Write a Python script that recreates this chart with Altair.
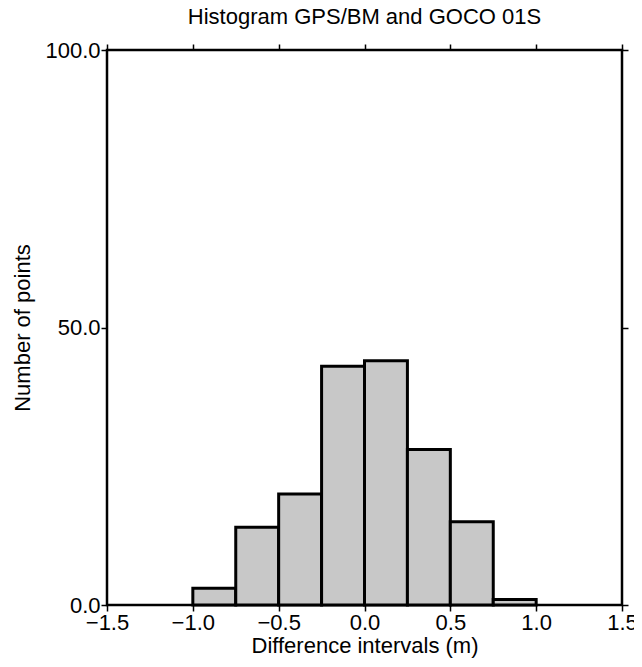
import altair as alt
import pandas as pd

bin_start = [-1.0, -0.75, -0.5, -0.25, 0.0, 0.25, 0.5, 0.75]
bin_end = [-0.75, -0.5, -0.25, 0.0, 0.25, 0.5, 0.75, 1.0]
counts = [3, 14, 20, 43, 44, 28, 15, 1]
x_ticks = [-1.5, -1.0, -0.5, 0.0, 0.5, 1.0, 1.5]
y_ticks = [0, 50, 100]

df = pd.DataFrame({"start": bin_start, "end": bin_end, "count": counts})

FONT = "Liberation Sans"
xscale = alt.Scale(domain=[-1.5, 1.5], nice=False, zero=False)
yscale = alt.Scale(domain=[0, 100], nice=False)

common_axis = dict(
    grid=False, domain=False, tickColor="black", tickWidth=1.5, tickSize=6,
    labelFont=FONT, labelFontSize=22, labelColor="black",
    titleFont=FONT, titleFontSize=22, titleFontWeight="normal", titleColor="black",
)

bars = alt.Chart(df).mark_bar(
    fill="#c8c8c8", stroke="black", strokeWidth=3, strokeJoin="miter"
).encode(
    x=alt.X("start:Q", scale=xscale,
            axis=alt.Axis(values=x_ticks, format=".1f", title="Difference intervals (m)",
                          labelPadding=1, titlePadding=2, labelFlush=False, **common_axis)),
    x2="end:Q",
    y=alt.Y("count:Q", scale=yscale,
            axis=alt.Axis(values=y_ticks, format=".1f", title="Number of points",
                          labelPadding=1, titlePadding=10, **common_axis)),
    y2=alt.datum(0),
)

frame = alt.Chart(df).mark_bar(opacity=0).encode(
    x=alt.X("start:Q", scale=xscale,
            axis=alt.Axis(orient="top", values=x_ticks, labels=False, title=None, **common_axis)),
    x2="end:Q",
    y=alt.Y("count:Q", scale=yscale,
            axis=alt.Axis(orient="right", values=y_ticks, labels=False, title=None, **common_axis)),
    y2=alt.datum(0),
)

chart = alt.layer(frame, bars).resolve_axis(
    x="independent", y="independent"
).properties(
    width=515, height=555,
    title=alt.TitleParams("Histogram GPS/BM and GOCO 01S", font=FONT, fontSize=22,
                          fontWeight="normal", color="black", anchor="middle", offset=10),
    autosize=alt.AutoSizeParams(type="none"),
    padding={"left": 99, "top": 42, "right": 12, "bottom": 54},
    background="white",
).configure_view(stroke="black", strokeWidth=2.5)

chart.save("out.html", embed_options={"renderer": "svg", "actions": False})
